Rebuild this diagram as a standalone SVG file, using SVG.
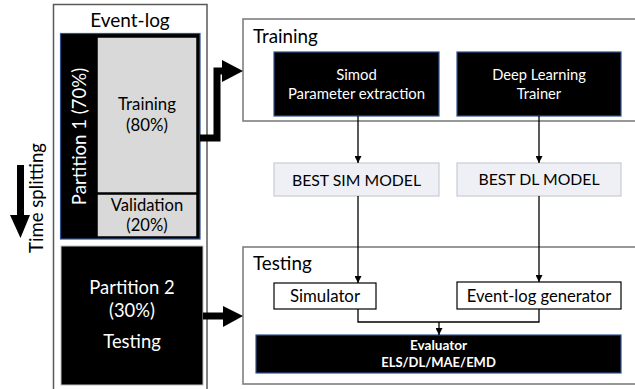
<svg xmlns="http://www.w3.org/2000/svg" width="635" height="389" viewBox="0 0 635 389">
<defs>
<style>
text{font-family:Lato,"Liberation Sans",sans-serif;}
.w{fill:#ffffff;}
.k{fill:#000000;}
.blk{fill:#000000;stroke:#2f528f;stroke-width:1.2;}
.gry{fill:#d9d9d9;stroke:#000000;stroke-width:1.5;}
.best{fill:#eef0f5;stroke:#c9cbd3;stroke-width:1.2;}
.wht{fill:#ffffff;stroke:#000000;stroke-width:1.2;}
.panel{fill:#ffffff;stroke:#7f7f7f;stroke-width:1.6;}
.conn{fill:none;stroke:#000000;stroke-width:1.3;}
.thick{fill:none;stroke:#000000;stroke-width:7;}
</style>
<marker id="ah" viewBox="0 0 10 10" refX="10" refY="5" markerWidth="7" markerHeight="7" markerUnits="userSpaceOnUse" orient="auto">
<path d="M0,0 L10,5 L0,10 Z" fill="#000000"/>
</marker>
</defs>
<rect width="635" height="389" fill="#ffffff"/>

<g id="event-log">
<rect x="53.5" y="4.5" width="153.5" height="400" fill="#ffffff" stroke="#595959" stroke-width="1.5"/>
<text x="130" y="27" font-size="19" text-anchor="middle" class="k">Event-log</text>
</g>

<g id="partition1">
<rect x="60.5" y="33.5" width="139.5" height="205.5" class="blk"/>
<text transform="translate(86,136.5) rotate(-90)" font-size="18.6" text-anchor="middle" class="w">Partition 1 (70%)</text>
</g>

<g id="training-split">
<rect x="97" y="37" width="100" height="156" class="gry"/>
<text x="147" y="110" font-size="16.8" text-anchor="middle" class="k">Training</text>
<text x="147" y="131" font-size="16.8" text-anchor="middle" class="k">(80%)</text>
</g>

<g id="validation-split">
<rect x="97" y="194" width="100" height="43" class="gry"/>
<text x="147" y="211" font-size="16.6" text-anchor="middle" class="k">Validation</text>
<text x="147" y="231" font-size="16.6" text-anchor="middle" class="k">(20%)</text>
</g>

<g id="partition2">
<rect x="61" y="246" width="142" height="139" fill="#000000" stroke="#bfbfbf" stroke-width="1"/>
<text x="132" y="294" font-size="18.4" text-anchor="middle" class="w">Partition 2</text>
<text x="132" y="317" font-size="18.4" text-anchor="middle" class="w">(30%)</text>
<text x="132" y="348" font-size="18.4" text-anchor="middle" class="w">Testing</text>
</g>

<g id="time-splitting">
<text transform="translate(43,198) rotate(-90)" font-size="18.6" text-anchor="middle" class="k">Time splitting</text>
<rect x="17" y="165" width="7" height="51" fill="#000000"/>
<polygon points="10,215 30,215 20.5,238" fill="#000000"/>
</g>

<g id="training-panel">
<rect x="243" y="19" width="400" height="102" class="panel"/>
<text x="253" y="43" font-size="18.8" class="k">Training</text>
</g>

<g id="simod">
<rect x="274" y="52" width="165" height="64" class="blk"/>
<text x="356.5" y="80" font-size="14.9" text-anchor="middle" class="w">Simod</text>
<text x="356.5" y="99" font-size="14.9" text-anchor="middle" class="w">Parameter extraction</text>
</g>

<g id="dl-trainer">
<rect x="457" y="52" width="164" height="64" class="blk"/>
<text x="539" y="80" font-size="14.7" text-anchor="middle" class="w">Deep Learning</text>
<text x="539" y="99" font-size="14.7" text-anchor="middle" class="w">Trainer</text>
</g>

<g id="best-sim">
<rect x="274" y="163" width="165" height="33" class="best"/>
<text x="356.5" y="185.5" font-size="15.8" text-anchor="middle" class="k">BEST SIM MODEL</text>
</g>

<g id="best-dl">
<rect x="457" y="163" width="164" height="33" class="best"/>
<text x="539" y="184.5" font-size="15.8" text-anchor="middle" class="k">BEST DL MODEL</text>
</g>

<g id="testing-panel">
<rect x="243" y="247" width="400" height="137" class="panel"/>
<text x="253" y="270" font-size="18.8" class="k">Testing</text>
</g>

<g id="simulator">
<rect x="274" y="283" width="102" height="26" class="wht"/>
<text x="325" y="302" font-size="16.8" text-anchor="middle" class="k">Simulator</text>
</g>

<g id="eventlog-generator">
<rect x="457" y="282" width="164" height="27" class="wht"/>
<text x="539" y="302" font-size="16.6" text-anchor="middle" class="k">Event-log generator</text>
</g>

<g id="evaluator">
<rect x="256" y="335" width="365" height="38" class="blk"/>
<text x="438.5" y="350" font-size="13.6" font-weight="bold" text-anchor="middle" class="w">Evaluator</text>
<text x="438.5" y="367" font-size="13" font-weight="bold" text-anchor="middle" class="w">ELS/DL/MAE/EMD</text>
</g>

<g id="connectors">
<path d="M200,138 H217 V71 H224" class="thick"/>
<polygon points="222,60 243,71 222,82" fill="#000000"/>
<path d="M203,316 H224" class="thick"/>
<polygon points="223,306 243,316 223,327" fill="#000000"/>
<line x1="358" y1="116" x2="358" y2="163" class="conn" marker-end="url(#ah)"/>
<line x1="539" y1="116" x2="539" y2="163" class="conn" marker-end="url(#ah)"/>
<line x1="358" y1="196" x2="358" y2="283" class="conn" marker-end="url(#ah)"/>
<line x1="539" y1="196" x2="539" y2="282" class="conn" marker-end="url(#ah)"/>
<path d="M358,309 V322 H539 V309" class="conn"/>
<line x1="439" y1="322" x2="439" y2="335" class="conn" marker-end="url(#ah)"/>
</g>
</svg>
